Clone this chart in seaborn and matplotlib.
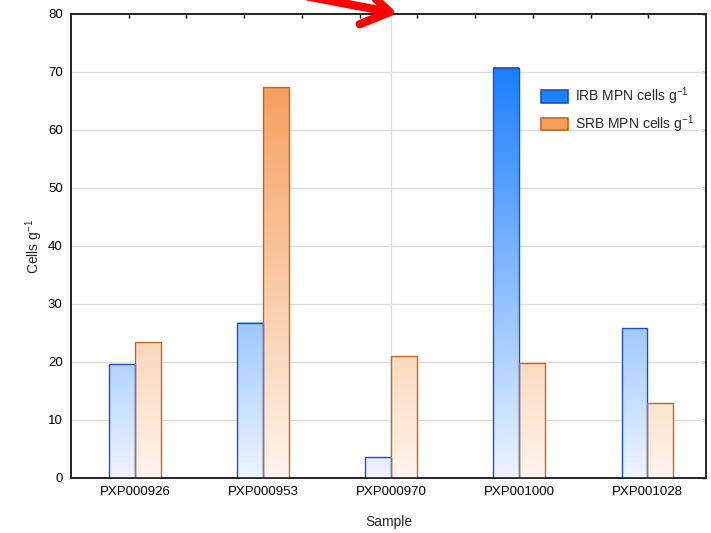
import numpy as np
import pandas as pd
import matplotlib
matplotlib.use("Agg")
import matplotlib.pyplot as plt
import seaborn as sns
from matplotlib.colors import LinearSegmentedColormap, Normalize
from matplotlib.patches import FancyArrowPatch, Patch

# Sample data
samples = ["PXP000926", "PXP000953", "PXP000970", "PXP001000", "PXP001028"]
irb_values = [19.6, 26.8, 3.6, 70.7, 25.8]
srb_values = [23.4, 67.4, 21.0, 19.9, 12.9]
series_labels = ["IRB MPN cells g$^{\\mathsf{-1}}$", "SRB MPN cells g$^{\\mathsf{-1}}$"]
y_ticks = [0, 10, 20, 30, 40, 50, 60, 70, 80]

df = pd.DataFrame({
    "Sample": samples * 2,
    "Cells": irb_values + srb_values,
    "Series": [series_labels[0]] * len(samples) + [series_labels[1]] * len(samples),
})

sns.set_theme(style="white")
plt.rcParams["font.family"] = ["Liberation Sans", "DejaVu Sans"]
plt.rcParams["mathtext.fontset"] = "custom"
plt.rcParams["mathtext.rm"] = "Liberation Sans"
plt.rcParams["mathtext.sf"] = "Liberation Sans"
plt.rcParams["mathtext.it"] = "Liberation Sans"

fig = plt.figure(figsize=(7.11, 5.33), dpi=100)
ax = fig.add_axes([71 / 711, 1 - 478 / 533, 635 / 711, 464 / 533])

edge_colors = ["#1f4fc8", "#c8661e"]
solid_colors = ["#1a84ff", "#f7a05a"]
cmaps = [
    LinearSegmentedColormap.from_list("irb", ["#eef5ff", "#157dff"]),
    LinearSegmentedColormap.from_list("srb", ["#fef4eb", "#f59b55"]),
]

sns.barplot(data=df, x="Sample", y="Cells", hue="Series", hue_order=series_labels,
            palette=solid_colors, width=0.4, legend=False, ax=ax, zorder=3)

# Gradient fill following the value axis
norm = Normalize(0, 72)
for container, cmap, ec in zip(ax.containers, cmaps, edge_colors):
    for bar in container:
        x0 = bar.get_x()
        w = bar.get_width()
        h = bar.get_height()
        grad = np.linspace(0, h, 200).reshape(-1, 1)
        ax.imshow(grad, extent=[x0, x0 + w, 0, h], origin="lower", aspect="auto",
                  cmap=cmap, norm=norm, zorder=3, interpolation="bilinear")
        bar.set_facecolor("none")
        bar.set_edgecolor(ec)
        bar.set_linewidth(1.0)
        bar.set_zorder(4)

ax.set_xlim(-0.5, 4.46)
ax.set_ylim(0, 80)
ax.set_yticks(y_ticks)
for v in y_ticks[1:-1]:
    ax.axhline(v, color="#dedede", lw=0.9, zorder=1)
ax.axvline(2, color="#dedede", lw=0.9, zorder=1)

for s in ax.spines.values():
    s.set_visible(True)
    s.set_color("black")
    s.set_linewidth(1.1)

ax.tick_params(axis="both", length=0, labelsize=9.5, colors="black", pad=6)
ax.tick_params(axis="y", right=True, direction="in", length=3, width=1, labelright=False)
ax.tick_params(axis="y", left=False)
ax.set_xlabel("Sample", fontsize=10, labelpad=12)
ax.set_ylabel("Cells g$^{\\mathsf{-1}}$", fontsize=10, labelpad=2)

# Top axis tick marks
top = ax.twiny()
top.set_xlim(0, 11)
top.set_xticks(range(1, 11))
top.tick_params(axis="x", direction="in", length=3, width=1, labeltop=False, colors="black")
top.grid(False)

handles = [Patch(facecolor=c, edgecolor=e, lw=1.2) for c, e in zip(solid_colors, edge_colors)]
leg = ax.legend(handles, series_labels, loc="upper left",
                bbox_to_anchor=((535 - 71) / 635, 1 - (80 - 14) / 464),
                bbox_transform=ax.transAxes, frameon=False, fontsize=10, handlelength=2.0,
                handleheight=1.0, handletextpad=0.5, labelspacing=0.45, borderaxespad=0)

arrow = FancyArrowPatch(posA=(305 / 711, 1 + 4 / 533), posB=(400 / 711, 1 - 14 / 533),
                        transform=fig.transFigure, arrowstyle="->,head_length=0.7,head_width=0.45",
                        mutation_scale=28, color="#ff0000", lw=6, capstyle="round",
                        joinstyle="round", clip_on=False)
fig.add_artist(arrow)

fig.savefig("out.png", dpi=100)
